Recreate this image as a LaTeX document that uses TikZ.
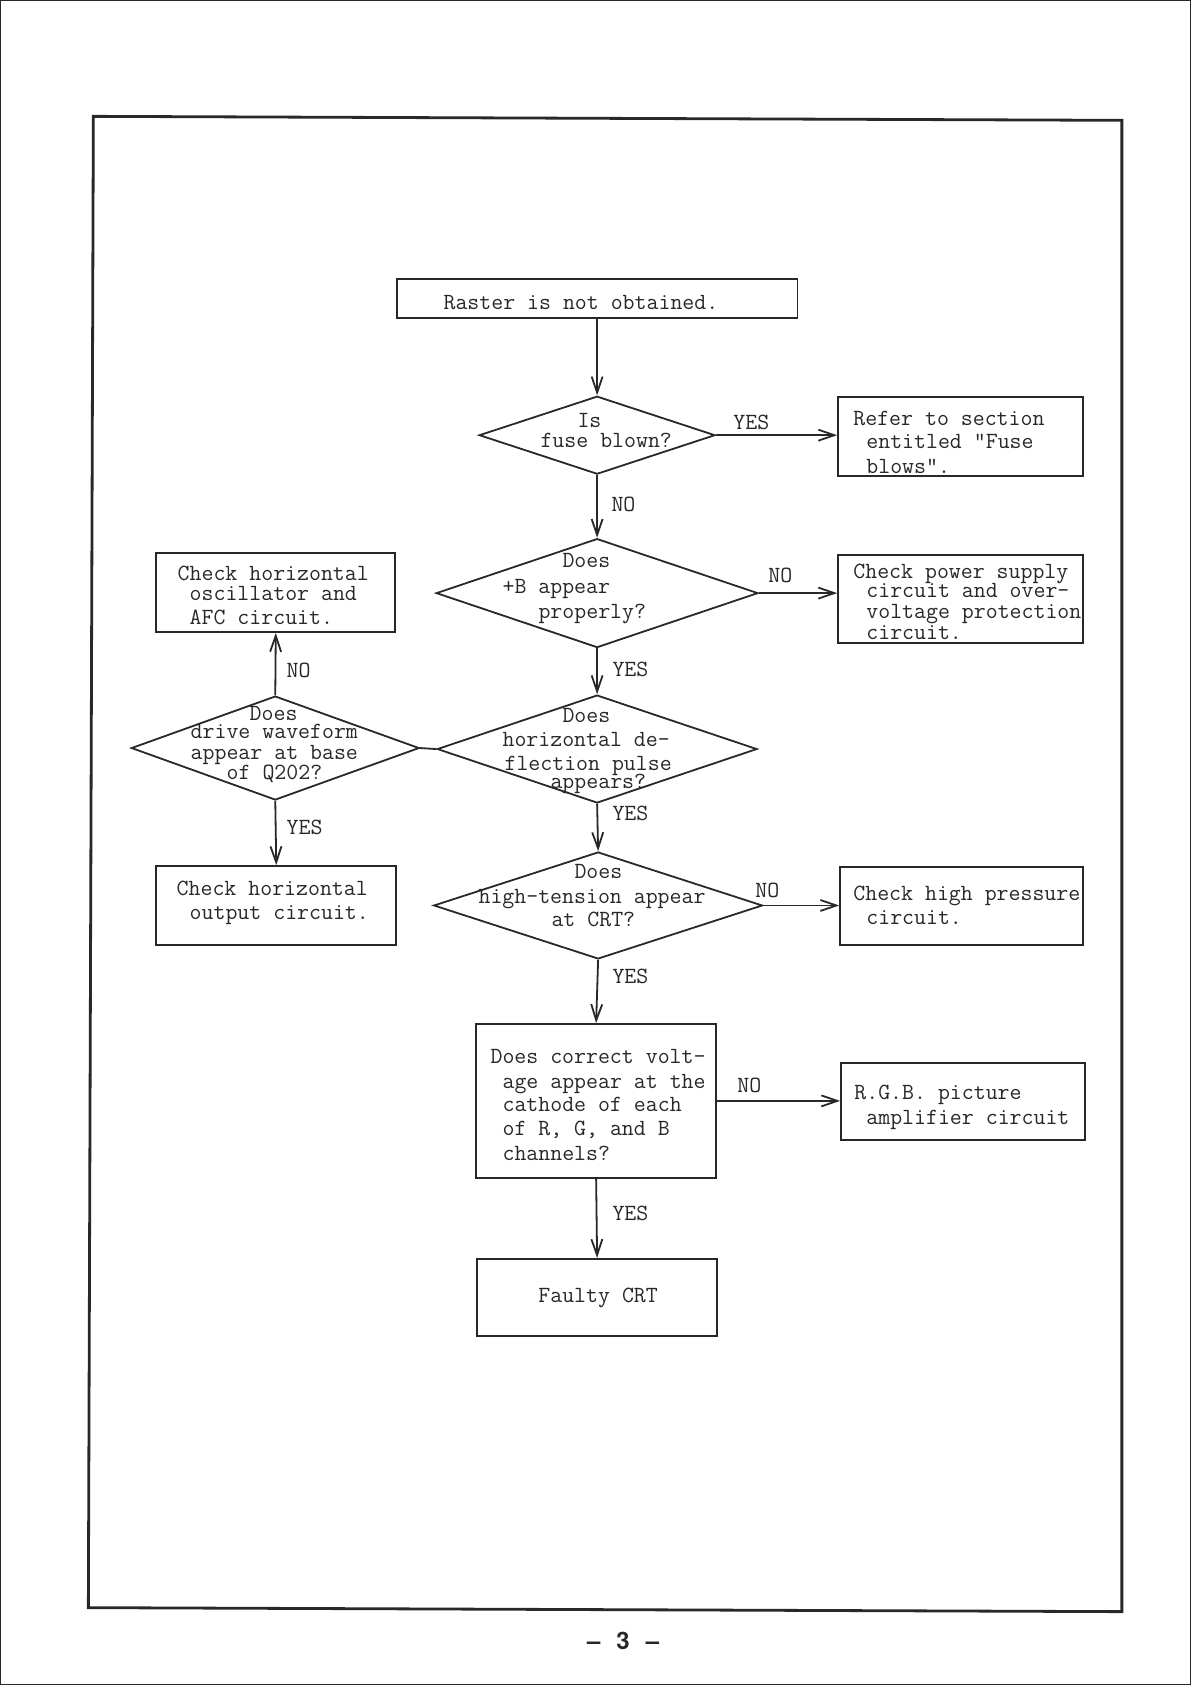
\documentclass[tikz,border=0pt]{standalone}
\usepackage{fontspec}
\newfontfamily\herosfont{TeX Gyre Heros}
\usetikzlibrary{shapes.geometric,arrows.meta}
\newcommand\twfont{\ttfamily\fontsize{11.6}{13}\selectfont}
\definecolor{ink}{RGB}{40,40,40}
\begin{document}
\begin{tikzpicture}[x=0.5pt,y=-0.5pt,
  every path/.style={draw=ink},
  box/.style={draw=ink, rectangle, inner sep=0pt, line width=0.9pt},
  dia/.style={draw=ink, diamond, inner sep=0pt, line width=0.9pt},
  txt/.style={anchor=base west, inner sep=0pt, font=\twfont, text=ink},
  arr/.style={draw=ink, line width=0.9pt, -{Straight Barb[length=8pt,width=5.5pt]}},
  con/.style={draw=ink, line width=0.9pt}]
\useasboundingbox (0,0) rectangle (1191,1685);
% frame
\coordinate (f1) at (93,116);
\coordinate (f2) at (1122,120);
\coordinate (f3) at (1122,1612);
\coordinate (f4) at (88,1608);
\draw[line width=1.4pt] (f1) -- (f2) -- (f3) -- (f4) -- cycle;
% shapes
\node[box, minimum width=200.5pt, minimum height=19.5pt] (raster) at (597,298.5) {};
\node[dia, minimum width=118pt, minimum height=39pt] (fuse) at (597,435) {};
\node[box, minimum width=122.5pt, minimum height=39.5pt] (refer) at (960.5,436.5) {};
\node[dia, minimum width=161pt, minimum height=54.5pt] (plusb) at (597,593) {};
\node[box, minimum width=122.5pt, minimum height=44pt] (power) at (960.5,599) {};
\node[dia, minimum width=160pt, minimum height=54pt] (hdef) at (597,749) {};
\node[dia, minimum width=144pt, minimum height=52pt] (drive) at (275,748) {};
\node[box, minimum width=119.5pt, minimum height=39.5pt] (osc) at (275.5,592.5) {};
\node[box, minimum width=120pt, minimum height=39.5pt] (hout) at (276,905.5) {};
\node[dia, minimum width=164.5pt, minimum height=53.5pt] (ht) at (598,905.5) {};
\node[box, minimum width=121.5pt, minimum height=39pt] (hp) at (961.5,906) {};
\node[box, minimum width=120pt, minimum height=77pt] (volt) at (596,1101) {};
\node[box, minimum width=122pt, minimum height=38.5pt] (rgb) at (963,1101.5) {};
\node[box, minimum width=120pt, minimum height=38.5pt] (faulty) at (597,1297.5) {};
% connectors
\draw[arr] (raster.south) -- (fuse.north);
\draw[arr] (fuse.east) -- (fuse.east -| refer.west);
\draw[arr] (fuse.south) -- (plusb.north);
\draw[arr] (plusb.east) -- (plusb.east -| power.west);
\draw[arr] (plusb.south) -- (hdef.north);
\draw[con] (hdef.west) -- (drive.east);
\draw[arr] (drive.north) -- (osc.south);
\draw[arr] (drive.south) -- (hout.north);
\draw[arr] (hdef.south) -- (ht.north);
\draw[arr] (ht.east) -- (ht.east -| hp.west);
\draw[arr] (ht.south) -- (volt.north);
\draw[arr] (volt.east) -- (volt.east -| rgb.west);
\draw[arr] (volt.south) -- (faulty.north);
% texts
\node[txt] (t-raster) at (443,309) {Raster is not obtained.};
\node[txt] (t-fuse1) at (577,427) {Is};
\node[txt] (t-fuse2) at (540,447) {fuse blown?};
\node[txt] (t-ref1) at (853,425) {Refer to section};
\node[txt] (t-ref2) at (866,448) {entitled "Fuse};
\node[txt] (t-ref3) at (866,473) {blows".};
\node[txt] (t-pow1) at (853,578) {Check power supply};
\node[txt] (t-pow2) at (866,597) {circuit and over-};
\node[txt] (t-pow3) at (866,618) {voltage protection};
\node[txt] (t-pow4) at (866,639) {circuit.};
\node[txt] (t-pb1) at (562,567) {Does};
\node[txt] (t-pb2) at (502,593) {+B appear};
\node[txt] (t-pb3) at (538,618) {properly?};
\node[txt] (t-osc1) at (177,580) {Check horizontal};
\node[txt] (t-osc2) at (189,600) {oscillator and};
\node[txt] (t-osc3) at (189,624) {AFC circuit.};
\node[txt] (t-dr1) at (249,720) {Does};
\node[txt] (t-dr2) at (190,738) {drive waveform};
\node[txt] (t-dr3) at (190,759) {appear at base};
\node[txt] (t-dr4) at (226,779) {of Q202?};
\node[txt] (t-hd1) at (562,722) {Does};
\node[txt] (t-hd2) at (502,746) {horizontal de-};
\node[txt] (t-hd3) at (504,770) {flection pulse};
\node[txt] (t-hd4) at (550,788) {appears?};
\node[txt] (t-ho1) at (176,896) {Check horizontal};
\node[txt] (t-ho2) at (189,920) {output circuit.};
\node[txt] (t-ht1) at (574,879) {Does};
\node[txt] (t-ht2) at (478,904) {high-tension appear};
\node[txt] (t-ht3) at (551,927) {at CRT?};
\node[txt] (t-hp1) at (853,901) {Check high pressure};
\node[txt] (t-hp2) at (866,925) {circuit.};
\node[txt] (t-v1) at (490,1064) {Does correct volt-};
\node[txt] (t-v2) at (502,1089) {age appear at the};
\node[txt] (t-v3) at (502,1112) {cathode of each};
\node[txt] (t-v4) at (502,1136) {of R, G, and B};
\node[txt] (t-v5) at (502,1161) {channels?};
\node[txt] (t-rgb1) at (854,1100) {R.G.B. picture};
\node[txt] (t-rgb2) at (866,1125) {amplifier circuit};
\node[txt, anchor=base] (t-faulty) at (598,1303) {Faulty CRT};
% labels
\node[txt] (l1) at (733,429) {YES};
\node[txt] (l2) at (611,511) {NO};
\node[txt] (l3) at (768,582) {NO};
\node[txt] (l4) at (612,676) {YES};
\node[txt] (l5) at (286,677) {NO};
\node[txt] (l6) at (612,820) {YES};
\node[txt] (l7) at (286,834) {YES};
\node[txt] (l8) at (755,898) {NO};
\node[txt] (l9) at (612,984) {YES};
\node[txt] (l10) at (737,1093) {NO};
\node[txt] (l11) at (612,1221) {YES};
% page number
\node[anchor=base, inner sep=0pt, font=\herosfont\bfseries\fontsize{12}{14}\selectfont, text=ink] (pagenum) at (623,1650) {\textendash\hspace{8pt}3\hspace{8pt}\textendash};
\end{tikzpicture}
\end{document}
